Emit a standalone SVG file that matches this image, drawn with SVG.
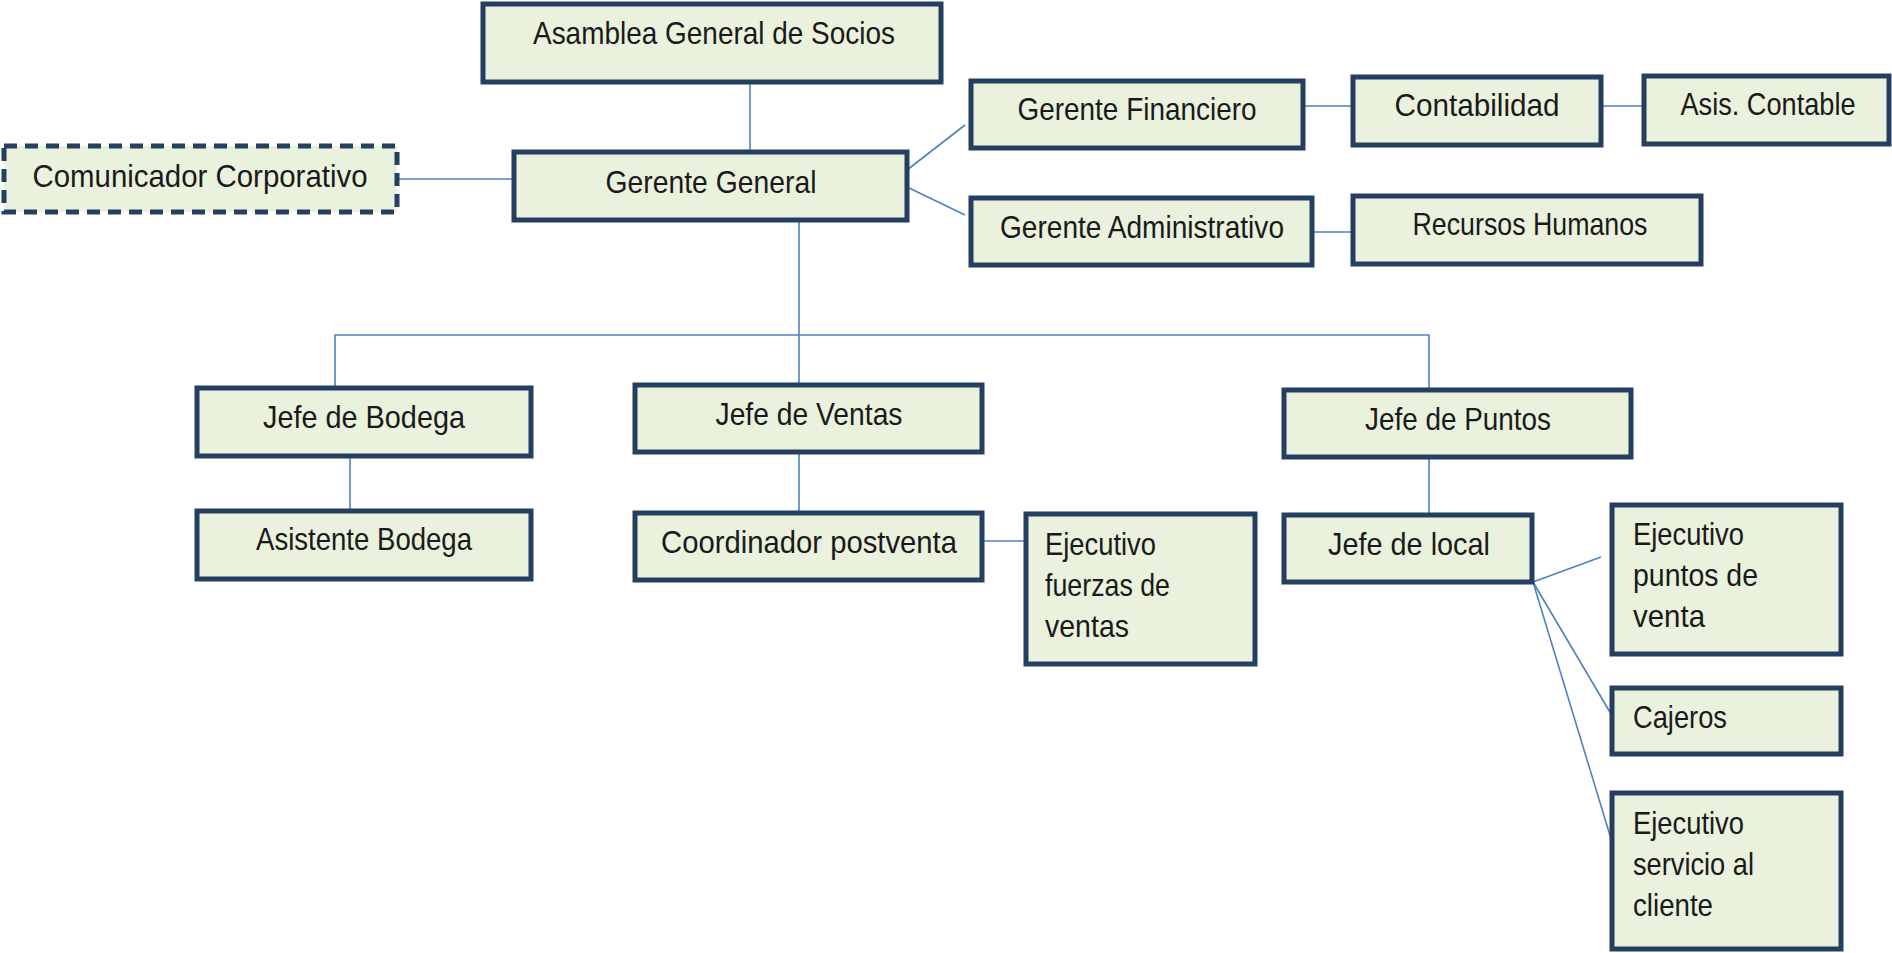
<svg xmlns="http://www.w3.org/2000/svg" width="1892" height="953" viewBox="0 0 1892 953">
<style>
.box{fill:#EAF1DD;stroke:#243F60;stroke-width:5}
.dash{stroke-dasharray:13 8}
.t{font-family:"Liberation Sans",Arial,sans-serif;font-size:32px;fill:#1a1a1a}
.c{text-anchor:middle}
.ln{stroke:#4F81BD;stroke-width:1.6;fill:none}
</style>
<rect width="1892" height="953" fill="#ffffff"/>
<g id="connectors">
<line class="ln" x1="750" y1="82" x2="750" y2="152"/>
<line class="ln" x1="397" y1="179" x2="514" y2="179"/>
<line class="ln" x1="907" y1="170" x2="965" y2="125"/>
<line class="ln" x1="907" y1="187" x2="965" y2="215"/>
<line class="ln" x1="1303" y1="106" x2="1353" y2="106"/>
<line class="ln" x1="1601" y1="106" x2="1644" y2="106"/>
<line class="ln" x1="1312" y1="232" x2="1353" y2="232"/>
<line class="ln" x1="799" y1="220" x2="799" y2="385"/>
<polyline class="ln" points="335,388 335,335 1429,335 1429,390"/>
<line class="ln" x1="350" y1="456" x2="350" y2="511"/>
<line class="ln" x1="799" y1="452" x2="799" y2="513"/>
<line class="ln" x1="982" y1="541" x2="1026" y2="541"/>
<line class="ln" x1="1429" y1="457" x2="1429" y2="515"/>
<line class="ln" x1="1533" y1="582" x2="1601" y2="557"/>
<line class="ln" x1="1533" y1="582" x2="1614" y2="719"/>
<line class="ln" x1="1533" y1="582" x2="1612" y2="842"/>
</g>
<g id="asamblea"><rect class="box" x="483" y="4" width="458" height="78"/><text class="t c" x="714" y="44" textLength="362" lengthAdjust="spacingAndGlyphs">Asamblea General de Socios</text></g>
<g id="comunicador"><rect class="box dash" x="4" y="146" width="393" height="66"/><text class="t c" x="200" y="187" textLength="335" lengthAdjust="spacingAndGlyphs">Comunicador Corporativo</text></g>
<g id="gerente-general"><rect class="box" x="514" y="152" width="393" height="68"/><text class="t c" x="711" y="193" textLength="211" lengthAdjust="spacingAndGlyphs">Gerente General</text></g>
<g id="gerente-financiero"><rect class="box" x="971" y="81" width="332" height="67"/><text class="t c" x="1137" y="120" textLength="239" lengthAdjust="spacingAndGlyphs">Gerente Financiero</text></g>
<g id="contabilidad"><rect class="box" x="1353" y="77" width="248" height="68"/><text class="t c" x="1477" y="116" textLength="165" lengthAdjust="spacingAndGlyphs">Contabilidad</text></g>
<g id="asis-contable"><rect class="box" x="1644" y="76" width="245" height="68"/><text class="t c" x="1768" y="115" textLength="175" lengthAdjust="spacingAndGlyphs">Asis. Contable</text></g>
<g id="gerente-administrativo"><rect class="box" x="971" y="198" width="341" height="67"/><text class="t c" x="1142" y="238" textLength="284" lengthAdjust="spacingAndGlyphs">Gerente Administrativo</text></g>
<g id="recursos-humanos"><rect class="box" x="1353" y="196" width="348" height="68"/><text class="t c" x="1530" y="235" textLength="235" lengthAdjust="spacingAndGlyphs">Recursos Humanos</text></g>
<g id="jefe-bodega"><rect class="box" x="197" y="388" width="334" height="68"/><text class="t c" x="364" y="428" textLength="202" lengthAdjust="spacingAndGlyphs">Jefe de Bodega</text></g>
<g id="asistente-bodega"><rect class="box" x="197" y="511" width="334" height="68"/><text class="t c" x="364" y="550" textLength="216" lengthAdjust="spacingAndGlyphs">Asistente Bodega</text></g>
<g id="jefe-ventas"><rect class="box" x="635" y="385" width="347" height="67"/><text class="t c" x="809" y="425" textLength="187" lengthAdjust="spacingAndGlyphs">Jefe de Ventas</text></g>
<g id="coordinador-postventa"><rect class="box" x="635" y="513" width="347" height="67"/><text class="t c" x="809" y="553" textLength="296" lengthAdjust="spacingAndGlyphs">Coordinador postventa</text></g>
<g id="ejecutivo-fuerzas"><rect class="box" x="1026" y="514" width="229" height="150"/><text class="t" x="1045" y="555" textLength="111" lengthAdjust="spacingAndGlyphs">Ejecutivo</text><text class="t" x="1045" y="596" textLength="125" lengthAdjust="spacingAndGlyphs">fuerzas de</text><text class="t" x="1045" y="637" textLength="84" lengthAdjust="spacingAndGlyphs">ventas</text></g>
<g id="jefe-puntos"><rect class="box" x="1284" y="390" width="347" height="67"/><text class="t c" x="1458" y="430" textLength="186" lengthAdjust="spacingAndGlyphs">Jefe de Puntos</text></g>
<g id="jefe-local"><rect class="box" x="1284" y="515" width="248" height="67"/><text class="t c" x="1409" y="555" textLength="162" lengthAdjust="spacingAndGlyphs">Jefe de local</text></g>
<g id="ejecutivo-puntos"><rect class="box" x="1612" y="505" width="229" height="149"/><text class="t" x="1633" y="545" textLength="111" lengthAdjust="spacingAndGlyphs">Ejecutivo</text><text class="t" x="1633" y="586" textLength="125" lengthAdjust="spacingAndGlyphs">puntos de</text><text class="t" x="1633" y="627" textLength="72" lengthAdjust="spacingAndGlyphs">venta</text></g>
<g id="cajeros"><rect class="box" x="1612" y="688" width="229" height="66"/><text class="t" x="1633" y="728" textLength="94" lengthAdjust="spacingAndGlyphs">Cajeros</text></g>
<g id="ejecutivo-servicio"><rect class="box" x="1612" y="793" width="229" height="156"/><text class="t" x="1633" y="834" textLength="111" lengthAdjust="spacingAndGlyphs">Ejecutivo</text><text class="t" x="1633" y="875" textLength="121" lengthAdjust="spacingAndGlyphs">servicio al</text><text class="t" x="1633" y="916" textLength="80" lengthAdjust="spacingAndGlyphs">cliente</text></g>
</svg>
